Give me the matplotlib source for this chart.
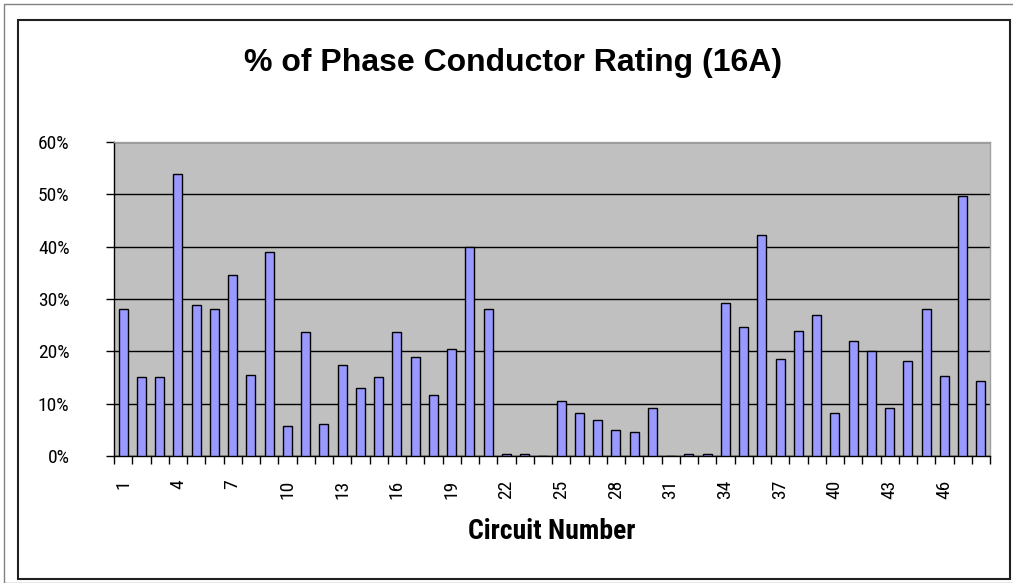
import numpy as np
import matplotlib
matplotlib.use('Agg')
import matplotlib.pyplot as plt
from matplotlib.patches import Rectangle
from matplotlib.ticker import FixedLocator, FuncFormatter

# Circuit load as % of 16A phase conductor rating
circuits = list(range(1, 49))
load_pct = [28.0, 15.1, 15.1, 53.9, 28.9, 28.0, 34.5, 15.5, 39.0, 5.7,
            23.6, 6.1, 17.4, 12.9, 15.1, 23.6, 18.9, 11.7, 20.4, 39.9,
            28.0, 0.3, 0.3, 0.0, 10.6, 8.3, 6.8, 4.9, 4.5, 9.2,
            0.0, 0.3, 0.3, 29.2, 24.7, 42.2, 18.6, 23.9, 26.9, 8.3,
            22.0, 20.1, 9.2, 18.2, 28.0, 15.2, 49.7, 14.4]
tick_labels = [str(c) for c in range(1, 49, 3)]
y_ticks = [0, 10, 20, 30, 40, 50, 60]

narrow = ['Roboto Condensed', 'DejaVu Sans']
plain = ['Liberation Sans', 'DejaVu Sans']

fig = plt.figure(figsize=(10.13, 5.83), dpi=100)
ax = fig.add_axes([114 / 1013, 1 - 456 / 583, 876 / 1013, 314 / 583])

x = np.arange(len(circuits))
ax.set_facecolor('#C0C0C0')
ax.bar(x, load_pct, width=0.5, color='#9999FF', edgecolor='black', linewidth=1.0, zorder=3)

ax.set_xlim(-0.5, len(circuits) - 0.5)
ax.set_ylim(0, 60)

# gridlines
ax.yaxis.set_major_locator(FixedLocator(y_ticks))
ax.yaxis.set_major_formatter(FuncFormatter(lambda v, p: '%d%%' % v))
ax.grid(axis='y', color='black', linewidth=1.0, zorder=1)
ax.set_axisbelow(True)

# x ticks: labels every 3rd circuit, tick marks at category boundaries
ax.set_xticks(x[::3])
ax.set_xticklabels(tick_labels, rotation=90, fontfamily=narrow, fontsize=14)
ax.set_xticks(np.arange(-0.5, len(circuits)), minor=True)
ax.tick_params(axis='x', which='major', length=0, pad=17)
ax.tick_params(axis='x', which='minor', length=6, width=1, color='black')
ax.tick_params(axis='y', length=6, width=1, color='black', pad=26)
for lab in ax.get_yticklabels():
    lab.set_fontfamily(narrow)
    lab.set_fontsize(14)

for side in ['left', 'bottom']:
    ax.spines[side].set_color('black')
    ax.spines[side].set_linewidth(1.0)
for side in ['top', 'right']:
    ax.spines[side].set_color('#A0A0A0')
    ax.spines[side].set_linewidth(1.0)

ax.set_xlabel('Circuit Number', fontfamily=narrow, fontweight='bold', fontsize=20, va='baseline')
ax.xaxis.set_label_coords(0.5, -(539 - 456) / 314)

fig.text(513 / 1013, 1 - 71 / 583, '% of Phase Conductor Rating (16A)', ha='center', va='baseline',
         fontfamily=plain, fontweight='bold', fontsize=23)

# chart frame
fig.patches.append(Rectangle((4 / 1013, 0), 1.2, 1 - 4 / 583, transform=fig.transFigure,
                             fill=False, edgecolor='#808080', linewidth=1.0))
fig.patches.append(Rectangle((18 / 1013, 4 / 583), 992 / 1013, 559 / 583, transform=fig.transFigure,
                             fill=False, edgecolor='#202020', linewidth=1.5))

fig.savefig('out.png', dpi=100)
